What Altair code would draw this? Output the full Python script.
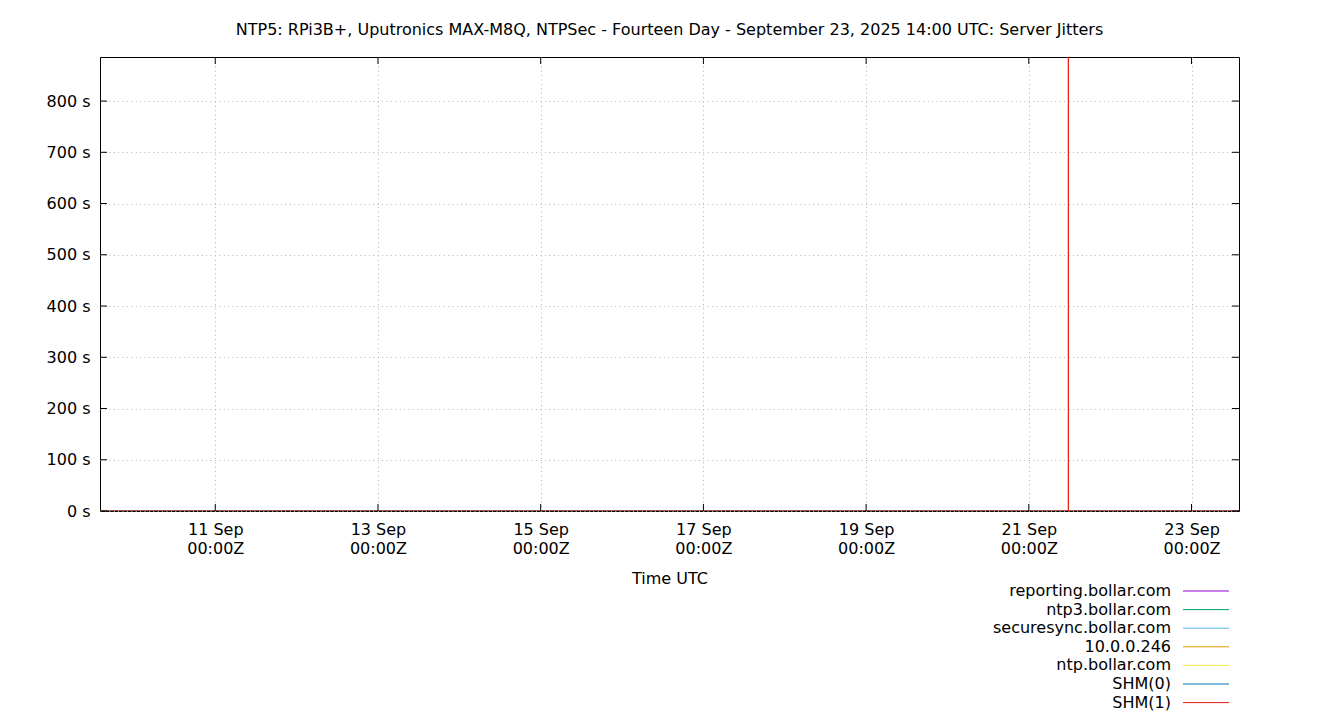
import altair as alt
import pandas as pd

TITLE = "NTP5: RPi3B+, Uputronics MAX-M8Q, NTPSec - Fourteen Day - September 23, 2025 14:00 UTC: Server Jitters"

SERIES = ["reporting.bollar.com", "ntp3.bollar.com", "securesync.bollar.com",
          "10.0.0.246", "ntp.bollar.com", "SHM(0)", "SHM(1)"]
COLORS = ["#9400d3", "#009e73", "#56b4e9", "#e69f00", "#f0e442", "#0072b2", "#e51e10"]

DAY_TIMES = ["2025-09-09T14:00:00Z", "2025-09-10T14:00:00Z", "2025-09-11T14:00:00Z",
             "2025-09-12T14:00:00Z", "2025-09-13T14:00:00Z", "2025-09-14T14:00:00Z",
             "2025-09-15T14:00:00Z", "2025-09-16T14:00:00Z", "2025-09-17T14:00:00Z",
             "2025-09-18T14:00:00Z", "2025-09-19T14:00:00Z", "2025-09-20T14:00:00Z",
             "2025-09-21T14:00:00Z", "2025-09-22T14:00:00Z", "2025-09-23T14:00:00Z"]

REPORTING = [0.0021, 0.0018, 0.0025, 0.0019, 0.0022, 0.0020, 0.0017, 0.0023,
             0.0021, 0.0019, 0.0024, 0.0020, 0.0018, 0.0022, 0.0021]
NTP3 = [0.0031, 0.0028, 0.0035, 0.0030, 0.0027, 0.0033, 0.0029, 0.0032,
        0.0030, 0.0028, 0.0034, 0.0031, 0.0029, 0.0030, 0.0032]
SECURESYNC = [0.0012, 0.0015, 0.0011, 0.0014, 0.0013, 0.0012, 0.0016, 0.0013,
              0.0011, 0.0014, 0.0012, 0.0015, 0.0013, 0.0012, 0.0014]
LOCAL246 = [0.0041, 0.0038, 0.0044, 0.0040, 0.0037, 0.0043, 0.0039, 0.0042,
            0.0040, 0.0038, 0.0045, 0.0041, 0.0039, 0.0040, 0.0042]
NTP_BOLLAR = [0.0026, 0.0024, 0.0029, 0.0025, 0.0023, 0.0027, 0.0024, 0.0028,
              0.0026, 0.0025, 0.0030, 0.0026, 0.0024, 0.0025, 0.0027]
SHM0 = [0.0004, 0.0005, 0.0004, 0.0006, 0.0005, 0.0004, 0.0005, 0.0004,
        0.0006, 0.0005, 0.0004, 0.0005, 0.0004, 0.0005, 0.0004]

SHM1_TIMES = ["2025-09-09T14:00:00Z", "2025-09-10T14:00:00Z", "2025-09-11T14:00:00Z",
              "2025-09-12T14:00:00Z", "2025-09-13T14:00:00Z", "2025-09-14T14:00:00Z",
              "2025-09-15T14:00:00Z", "2025-09-16T14:00:00Z", "2025-09-17T14:00:00Z",
              "2025-09-18T14:00:00Z", "2025-09-19T14:00:00Z", "2025-09-20T14:00:00Z",
              "2025-09-21T11:39:00Z", "2025-09-21T11:40:00Z", "2025-09-21T11:41:00Z",
              "2025-09-21T14:00:00Z", "2025-09-22T14:00:00Z", "2025-09-23T14:00:00Z"]
SHM1 = [0.0003, 0.0003, 0.0004, 0.0003, 0.0003, 0.0004, 0.0003, 0.0003, 0.0004,
        0.0003, 0.0003, 0.0004, 0.0003, 886.0, 0.0003, 0.0003, 0.0004, 0.0003]

X_TICKS = ["2025-09-11T00:00:00Z", "2025-09-13T00:00:00Z", "2025-09-15T00:00:00Z",
           "2025-09-17T00:00:00Z", "2025-09-19T00:00:00Z", "2025-09-21T00:00:00Z",
           "2025-09-23T00:00:00Z"]
X_DOMAIN = ["2025-09-09T14:00:00Z", "2025-09-23T14:00:00Z"]
Y_TICKS = [0, 100, 200, 300, 400, 500, 600, 700, 800]
Y_MAX = 886

W, H = 1139, 454
FONT = "DejaVu Sans"
FS = 16
GRID_COLOR = "#b4b4b4"
GRID_DASH = [1, 3.4]


def ms(s):
    return int(pd.Timestamp(s).value // 10**6)


rows = []
for name, vals in zip(SERIES[:6], [REPORTING, NTP3, SECURESYNC, LOCAL246, NTP_BOLLAR, SHM0]):
    for t, v in zip(DAY_TIMES, vals):
        rows.append({"series": name, "t": ms(t), "jitter": v})
for t, v in zip(SHM1_TIMES, SHM1):
    rows.append({"series": "SHM(1)", "t": ms(t), "jitter": v})
df = pd.DataFrame(rows)

x_scale = alt.Scale(type="utc", domain=[ms(d) for d in X_DOMAIN], nice=False)
y_scale = alt.Scale(domain=[0, Y_MAX], nice=False, zero=True)
color_scale = alt.Scale(domain=SERIES, range=COLORS)

x_axis = alt.Axis(
    values=[ms(t) for t in X_TICKS], title="Time UTC", ticks=False, domain=False,
    grid=True, gridDash=GRID_DASH, gridColor=GRID_COLOR, gridWidth=1,
    labelExpr="[utcFormat(datum.value, '%d %b'), utcFormat(datum.value, '%H:%MZ')]",
    labelPadding=10, labelLineHeight=19, titlePadding=14)


def x_enc():
    return alt.X("t:T", scale=x_scale, axis=x_axis)


lines = alt.Chart(df).mark_line(strokeWidth=1, clip=True).encode(
    x=x_enc(),
    y=alt.Y("jitter:Q", scale=y_scale, axis=alt.Axis(
        values=Y_TICKS, title=None, ticks=False, domain=False,
        grid=True, gridDash=GRID_DASH, gridColor=GRID_COLOR, gridWidth=1,
        labelExpr="datum.value + ' s'", labelPadding=10)),
    color=alt.Color("series:N", scale=color_scale, legend=None),
    order=alt.Order("t:Q"),
)

xt_df = pd.DataFrame({"t": [ms(t) for t in X_TICKS]})
yt_df = pd.DataFrame({"v": Y_TICKS})
TL = 7
xt_bottom = alt.Chart(xt_df).mark_rule(color="black", strokeWidth=1).encode(
    x=x_enc(), y=alt.value(H), y2=alt.value(H - TL))
xt_top = alt.Chart(xt_df).mark_rule(color="black", strokeWidth=1).encode(
    x=x_enc(), y=alt.value(0), y2=alt.value(TL))
yt_left = alt.Chart(yt_df).mark_rule(color="black", strokeWidth=1).encode(
    y=alt.Y("v:Q", scale=y_scale, axis=None), x=alt.value(0), x2=alt.value(TL))
yt_right = alt.Chart(yt_df).mark_rule(color="black", strokeWidth=1).encode(
    y=alt.Y("v:Q", scale=y_scale, axis=None), x=alt.value(W), x2=alt.value(W - TL))

leg_df = pd.DataFrame({"series": SERIES, "idx": list(range(len(SERIES)))})
leg_text = alt.Chart(leg_df).transform_calculate(py="534 + datum.idx * 18.6").mark_text(
    align="right", baseline="middle", fontSize=FS, font=FONT, color="black").encode(
    text="series:N", x=alt.value(1071), y=alt.Y("py:Q", scale=None))
leg_rule = alt.Chart(leg_df).transform_calculate(py="534 + datum.idx * 18.6").mark_rule(
    strokeWidth=1).encode(
    x=alt.value(1083), x2=alt.value(1129), y=alt.Y("py:Q", scale=None),
    color=alt.Color("series:N", scale=color_scale, legend=None))

chart = alt.layer(lines, xt_bottom, xt_top, yt_left, yt_right, leg_text, leg_rule).resolve_scale(
    y="independent"
).properties(
    width=W, height=H,
    background="white",
    title=alt.TitleParams(TITLE, anchor="middle", fontSize=FS, font=FONT,
                          fontWeight="normal", offset=19, color="black"),
    autosize=alt.AutoSizeParams(type="none"),
    padding={"left": 92, "top": 49, "right": 20, "bottom": 200},
).configure_view(stroke="black", strokeWidth=1).configure_axis(
    labelFont=FONT, labelFontSize=FS, labelColor="black",
    titleFont=FONT, titleFontSize=FS, titleFontWeight="normal", titleColor="black",
)

chart.save("out.html", embed_options={"renderer": "svg", "actions": False})
